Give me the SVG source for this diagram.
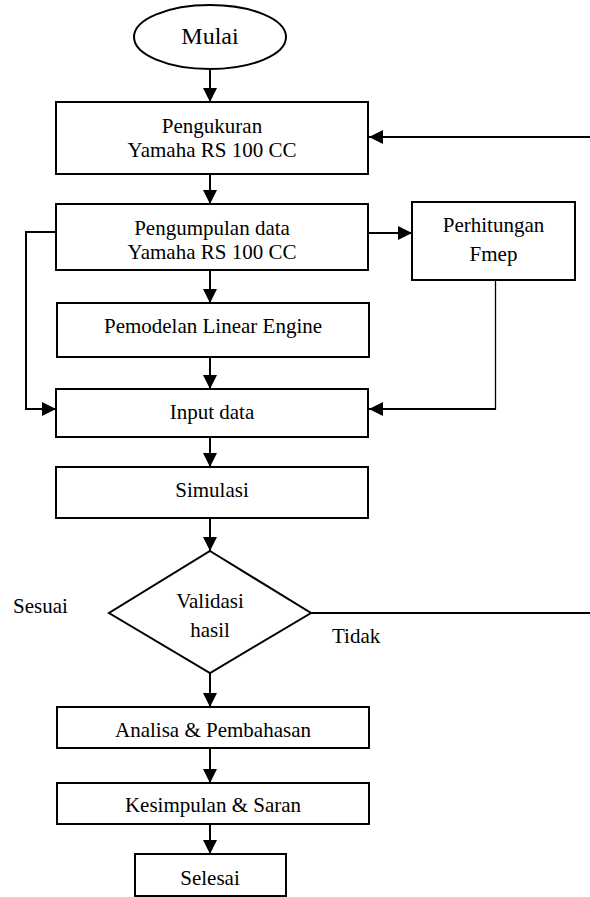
<svg xmlns="http://www.w3.org/2000/svg" width="590" height="897" viewBox="0 0 590 897">
<defs>
<marker id="ah" markerUnits="userSpaceOnUse" markerWidth="14" markerHeight="14" refX="14" refY="7" orient="auto" viewBox="0 0 14 14">
<path d="M0,0 L14,7 L0,14 z" fill="#000"/>
</marker>
</defs>
<style>
.box{fill:#fff;stroke:#000;stroke-width:2}
text{font-family:'Liberation Serif','DejaVu Serif','Times New Roman',serif;font-size:21px;fill:#000}
.t{text-anchor:middle}
.c{fill:none;stroke:#000;stroke-width:2}
</style>
<rect width="590" height="897" fill="#fff"/>
<g id="connectors">
<line class="c" x1="210" y1="69" x2="210" y2="102" marker-end="url(#ah)"/>
<line class="c" x1="590" y1="137" x2="369" y2="137" marker-end="url(#ah)"/>
<line class="c" x1="210" y1="174" x2="210" y2="204" marker-end="url(#ah)"/>
<line class="c" x1="368" y1="233" x2="412" y2="233" marker-end="url(#ah)"/>
<path class="c" d="M56,232 H26 V409 H56" marker-end="url(#ah)"/>
<line class="c" x1="210" y1="270" x2="210" y2="303" marker-end="url(#ah)"/>
<line class="c" x1="210" y1="357" x2="210" y2="389" marker-end="url(#ah)"/>
<line x1="495.5" y1="280" x2="495.5" y2="409" stroke="#000" stroke-width="1.3"/>
<line class="c" x1="496" y1="409" x2="369" y2="409" marker-end="url(#ah)"/>
<line class="c" x1="210" y1="437" x2="210" y2="467" marker-end="url(#ah)"/>
<line class="c" x1="210" y1="518" x2="210" y2="551" marker-end="url(#ah)"/>
<line class="c" x1="311" y1="613" x2="590" y2="613"/>
<line class="c" x1="210" y1="673" x2="210" y2="707" marker-end="url(#ah)"/>
<line class="c" x1="210" y1="748" x2="210" y2="783" marker-end="url(#ah)"/>
<line class="c" x1="210" y1="824" x2="210" y2="854" marker-end="url(#ah)"/>
</g>
<g id="mulai">
<ellipse class="box" cx="210" cy="37" rx="76" ry="32"/>
<text class="t" x="210" y="44" style="font-size:24px">Mulai</text>
</g>
<g id="pengukuran">
<rect class="box" x="56" y="102" width="312" height="72"/>
<text class="t" x="212" y="133">Pengukuran</text>
<text class="t" x="212" y="157">Yamaha RS 100 CC</text>
</g>
<g id="pengumpulan">
<rect class="box" x="56" y="204" width="312" height="66"/>
<text class="t" x="212" y="235">Pengumpulan data</text>
<text class="t" x="212" y="259">Yamaha RS 100 CC</text>
</g>
<g id="perhitungan">
<rect class="box" x="412" y="202" width="163" height="78"/>
<text class="t" x="493.5" y="232">Perhitungan</text>
<text class="t" x="493.5" y="261">Fmep</text>
</g>
<g id="pemodelan">
<rect class="box" x="57" y="303" width="312" height="54"/>
<text class="t" x="213" y="333">Pemodelan Linear Engine</text>
</g>
<g id="input">
<rect class="box" x="56" y="389" width="312" height="48"/>
<text class="t" x="212" y="419">Input data</text>
</g>
<g id="simulasi">
<rect class="box" x="56" y="467" width="312" height="51"/>
<text class="t" x="212" y="497">Simulasi</text>
</g>
<g id="validasi">
<polygon class="box" points="210,551 311,613 210,673 109,613"/>
<text class="t" x="210" y="608">Validasi</text>
<text class="t" x="210" y="637">hasil</text>
</g>
<g id="labels">
<text x="13" y="613">Sesuai</text>
<text x="332" y="643">Tidak</text>
</g>
<g id="analisa">
<rect class="box" x="57" y="707" width="312" height="41"/>
<text class="t" x="213" y="737">Analisa &amp; Pembahasan</text>
</g>
<g id="kesimpulan">
<rect class="box" x="57" y="783" width="312" height="41"/>
<text class="t" x="213" y="812">Kesimpulan &amp; Saran</text>
</g>
<g id="selesai">
<rect class="box" x="135" y="854" width="151" height="42"/>
<text class="t" x="210" y="885">Selesai</text>
</g>
</svg>
